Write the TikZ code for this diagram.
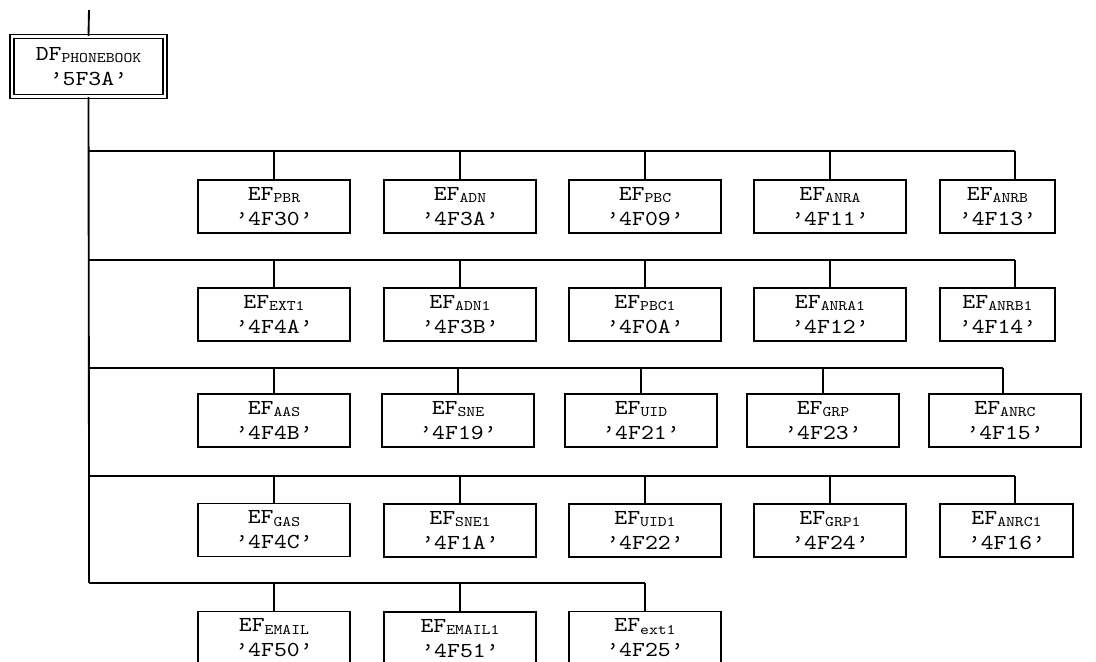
\documentclass[tikz,border=0pt]{standalone}
\usepackage{fontspec}
\setmonofont[FakeStretch=1.15]{lmmono10-regular.otf}
\newcommand\eflab[3]{#1\raisebox{-1.8pt}{\fontsize{11}{12}\selectfont #2}\\’#3’}
\tikzset{
  efbox/.style={draw, line width=1.4pt, inner sep=0pt, anchor=north,
    minimum width=114pt, minimum height=39.75pt, align=center,
    font=\ttfamily\fontsize{16}{18.75}\selectfont},
  thinbox/.style={efbox, line width=0.8pt},
  conn/.style={line width=1.4pt},
  thinconn/.style={line width=0.8pt},
  dfbox/.style={draw, line width=1.1pt, double, double distance=1.6pt, inner sep=0pt,
    minimum width=114.75pt, minimum height=45pt, align=center,
    font=\ttfamily\fontsize{16}{18.75}\selectfont}
}
\begin{document}
\begin{tikzpicture}[x=0.75pt,y=-0.75pt]
\useasboundingbox (0,0) rectangle (1096,661);
\clip (0,0) rectangle (1096,661);
\fill[white] (0,0) rectangle (1096,661);

% root
\coordinate (top) at (89,10);
\node[dfbox] (df) at (88.5,66.5) {\eflab{DF}{PHONEBOOK}{5F3A}};
\draw[conn] (top) -- (df.north);

% row line coordinates
\coordinate (r1) at (89,151); \coordinate (r1e) at (1015,151);
\coordinate (r2) at (89,260); \coordinate (r2e) at (1015,260);
\coordinate (r3) at (89,368); \coordinate (r3e) at (1003,368);
\coordinate (r4) at (89,476); \coordinate (r4e) at (1015,476);
\coordinate (r5) at (89,583); \coordinate (r5a) at (165,583);
\coordinate (r5b) at (460,583); \coordinate (r5e) at (645,583);

\draw[conn] (df.south) -- (r4);
\draw[thinconn] (r4) -- (r5);
\draw[conn] (r1) -- (r1e);
\draw[conn] (r2) -- (r2e);
\draw[conn] (r3) -- (r3e);
\draw[conn] (r4) -- (r4e);
\draw[thinconn] (r5) -- (r5a);
\draw[conn] (r5a) -- (r5b);
\draw[thinconn] (r5b) -- (r5e);

% row 1
\node[efbox] (b11) at (274,179) {\eflab{EF}{PBR}{4F30}};
\node[efbox] (b12) at (460,179) {\eflab{EF}{ADN}{4F3A}};
\node[efbox] (b13) at (645,179) {\eflab{EF}{PBC}{4F09}};
\node[efbox] (b14) at (830,179) {\eflab{EF}{ANRA}{4F11}};
\node[efbox, minimum width=86.25pt] (b15) at (997.5,179) {\eflab{EF}{ANRB}{4F13}};
% row 2
\node[efbox] (b21) at (274,287) {\eflab{EF}{EXT1}{4F4A}};
\node[efbox] (b22) at (460,287) {\eflab{EF}{ADN1}{4F3B}};
\node[efbox] (b23) at (645,287) {\eflab{EF}{PBC1}{4F0A}};
\node[efbox] (b24) at (830,287) {\eflab{EF}{ANRA1}{4F12}};
\node[efbox, minimum width=86.25pt] (b25) at (997.5,287) {\eflab{EF}{ANRB1}{4F14}};
% row 3
\node[efbox] (b31) at (274,393) {\eflab{EF}{AAS}{4F4B}};
\node[efbox] (b32) at (458,393) {\eflab{EF}{SNE}{4F19}};
\node[efbox] (b33) at (641,393) {\eflab{EF}{UID}{4F21}};
\node[efbox] (b34) at (823,393) {\eflab{EF}{GRP}{4F23}};
\node[efbox] (b35) at (1005,393) {\eflab{EF}{ANRC}{4F15}};
% row 4
\node[thinbox] (b41) at (274,503) {\eflab{EF}{GAS}{4F4C}};
\node[efbox] (b42) at (460,503) {\eflab{EF}{SNE1}{4F1A}};
\node[efbox] (b43) at (645,503) {\eflab{EF}{UID1}{4F22}};
\node[efbox] (b44) at (830,503) {\eflab{EF}{GRP1}{4F24}};
\node[efbox, minimum width=99.75pt] (b45) at (1006.5,503) {\eflab{EF}{ANRC1}{4F16}};
% row 5
\node[thinbox] (b51) at (274,611) {\eflab{EF}{EMAIL}{4F50}};
\node[efbox] (b52) at (460,611) {\eflab{EF}{EMAIL1}{4F51}};
\node[thinbox] (b53) at (645,611) {\eflab{EF}{ext1}{4F25}};

% drops
\foreach \n/\r in {b11/r1,b12/r1,b13/r1,b14/r1,
                   b21/r2,b22/r2,b23/r2,b24/r2,
                   b31/r3,b32/r3,b33/r3,b34/r3,
                   b42/r4,b43/r4,b44/r4,
                   b52/r5}
  \draw[conn] (\n.north) -- (\n.north |- \r);
\draw[thinconn] (b41.north) -- (b41.north |- r4);
\draw[thinconn] (b51.north) -- (b51.north |- r5);
\draw[thinconn] (b53.north) -- (r5e);
\draw[conn] (r1e) -- (r1e |- b15.north);
\draw[conn] (r2e) -- (r2e |- b25.north);
\draw[conn] (r3e) -- (r3e |- b35.north);
\draw[conn] (r4e) -- (r4e |- b45.north);
\end{tikzpicture}
\end{document}
